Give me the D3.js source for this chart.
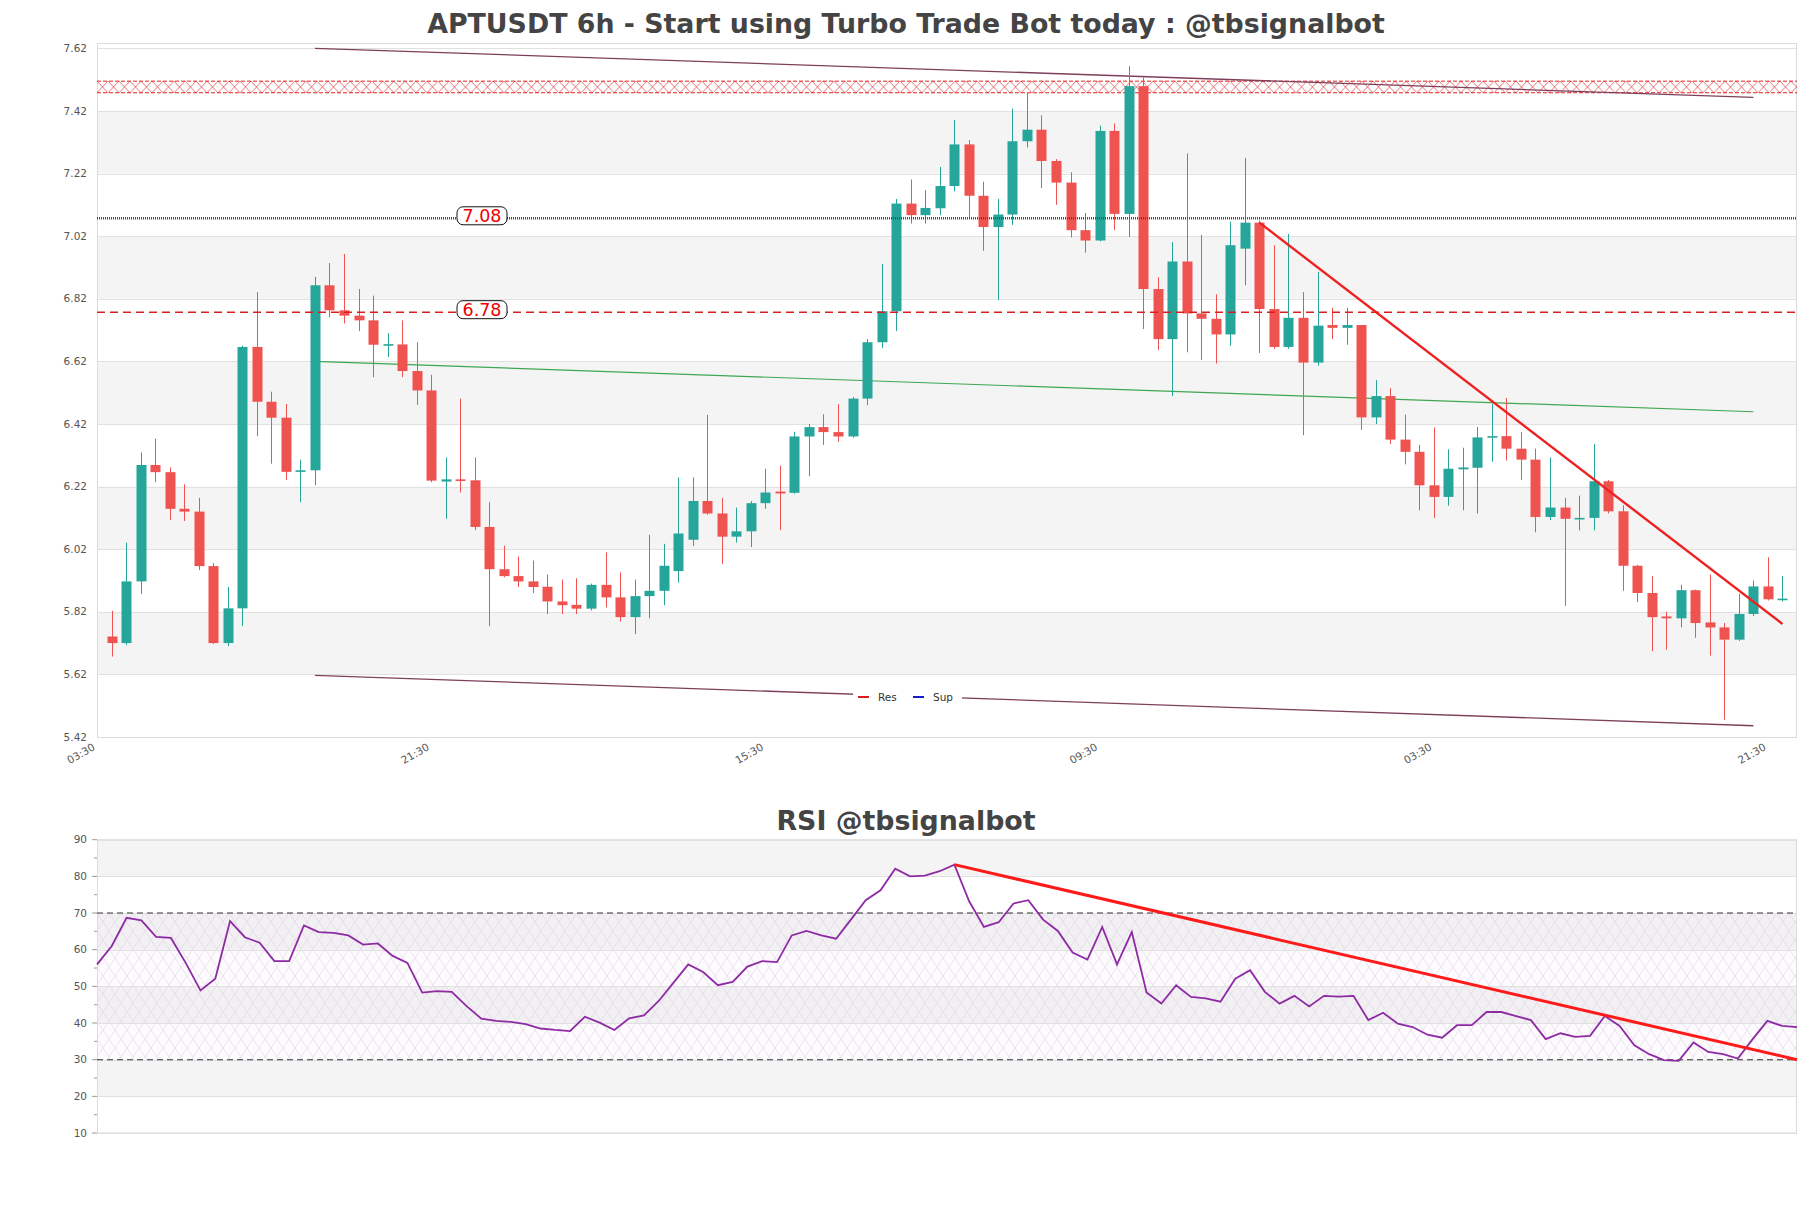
<!DOCTYPE html>
<html><head><meta charset="utf-8">
<script src="https://cdn.jsdelivr.net/npm/d3@7"></script>
<style>html,body{margin:0;padding:0;background:#fff}svg{display:block}</style>
</head><body>
<svg id="c" width="1811" height="1208"></svg>
<script>
// ---------- DATA ----------
const opens  = [5.741,5.720,5.917,6.289,6.266,6.149,6.140,5.966,5.720,5.831,6.666,6.491,6.440,6.267,6.272,6.863,6.783,6.766,6.751,6.672,6.674,6.589,6.527,6.236,6.243,6.240,6.091,5.956,5.934,5.917,5.900,5.853,5.842,5.830,5.906,5.866,5.803,5.870,5.887,5.950,6.050,6.174,6.134,6.060,6.077,6.167,6.204,6.200,6.380,6.410,6.394,6.380,6.501,6.681,6.780,7.124,7.087,7.109,7.180,7.313,7.149,7.049,7.089,7.323,7.360,7.260,7.191,7.039,7.006,7.356,7.091,7.499,6.851,6.691,6.939,6.773,6.756,6.706,6.980,7.063,6.787,6.666,6.759,6.616,6.736,6.727,6.736,6.441,6.509,6.370,6.331,6.224,6.187,6.275,6.280,6.377,6.381,6.341,6.306,6.123,6.153,6.117,6.120,6.237,6.141,5.967,5.880,5.805,5.799,5.889,5.786,5.770,5.731,5.813,5.901,5.859];
const highs  = [5.823,6.041,6.329,6.373,6.281,6.227,6.184,5.976,5.899,6.670,6.841,6.523,6.484,6.306,6.890,6.934,6.963,6.851,6.830,6.710,6.751,6.681,6.577,6.313,6.501,6.313,6.170,6.031,5.996,5.984,5.939,5.923,5.927,5.910,6.010,5.946,5.923,6.066,6.037,6.249,6.249,6.449,6.184,6.153,6.174,6.277,6.287,6.395,6.420,6.451,6.483,6.506,6.691,6.931,7.139,7.201,7.167,7.241,7.391,7.327,7.194,7.139,7.427,7.477,7.406,7.266,7.224,7.094,7.373,7.380,7.563,7.527,6.889,7.001,7.284,7.024,6.834,7.066,7.270,7.070,6.991,7.027,6.841,6.906,6.791,6.791,6.736,6.560,6.534,6.450,6.353,6.409,6.339,6.344,6.410,6.484,6.503,6.394,6.341,6.313,6.184,6.191,6.356,6.241,6.160,5.970,5.934,5.820,5.906,5.891,5.939,5.784,5.877,5.920,5.994,5.934];
const lows   = [5.677,5.713,5.877,6.234,6.113,6.110,5.953,5.717,5.710,5.774,6.381,6.293,6.241,6.170,6.224,6.761,6.741,6.717,6.569,6.634,6.570,6.481,6.234,6.117,6.201,6.081,5.774,5.930,5.899,5.880,5.813,5.813,5.813,5.824,5.834,5.789,5.749,5.799,5.841,5.913,6.030,6.130,5.973,6.041,6.027,6.149,6.081,6.197,6.253,6.353,6.363,6.376,6.480,6.663,6.717,7.060,7.060,7.087,7.163,7.077,6.973,6.816,7.056,7.303,7.174,7.120,7.016,6.967,7.003,7.039,7.017,6.723,6.656,6.509,6.649,6.624,6.613,6.670,6.863,6.647,6.660,6.660,6.384,6.606,6.691,6.673,6.401,6.420,6.356,6.291,6.144,6.120,6.159,6.144,6.134,6.299,6.303,6.241,6.074,6.113,5.839,6.080,6.080,6.134,5.887,5.851,5.694,5.699,5.770,5.737,5.680,5.475,5.727,5.806,5.856,5.853];
const closes = [5.720,5.917,6.289,6.266,6.149,6.140,5.966,5.720,5.831,6.666,6.491,6.440,6.267,6.272,6.863,6.783,6.766,6.751,6.673,6.675,6.589,6.527,6.239,6.243,6.240,6.091,5.956,5.934,5.917,5.899,5.853,5.841,5.830,5.906,5.866,5.803,5.870,5.887,5.967,6.070,6.174,6.134,6.060,6.077,6.167,6.201,6.198,6.380,6.410,6.394,6.380,6.501,6.681,6.780,7.124,7.087,7.110,7.180,7.313,7.149,7.049,7.089,7.323,7.360,7.260,7.191,7.039,7.006,7.356,7.091,7.499,6.851,6.691,6.939,6.773,6.756,6.706,6.991,7.063,6.787,6.666,6.759,6.616,6.734,6.727,6.736,6.441,6.509,6.370,6.331,6.224,6.187,6.277,6.281,6.377,6.381,6.341,6.306,6.123,6.153,6.117,6.120,6.237,6.141,5.967,5.880,5.803,5.799,5.889,5.784,5.770,5.731,5.813,5.901,5.860,5.862];

const rsi = [56.0,61.0,68.7,68.0,63.5,63.2,56.4,48.9,52.1,67.8,63.4,61.9,56.9,56.9,66.6,64.8,64.6,63.9,61.4,61.7,58.3,56.4,48.3,48.7,48.5,44.6,41.2,40.6,40.3,39.7,38.5,38.1,37.8,41.7,40.1,38.1,41.3,42.1,46.0,51.0,56.0,53.9,50.3,51.2,55.4,56.9,56.6,63.9,65.1,63.9,63.0,68.2,73.5,76.2,82.1,80.0,80.2,81.4,83.2,73.2,66.2,67.5,72.6,73.5,68.2,65.1,59.2,57.3,66.2,56.0,64.8,48.3,45.3,50.3,47.1,46.7,45.8,52.1,54.4,48.5,45.3,47.4,44.5,47.4,47.2,47.4,40.8,42.8,39.8,38.9,36.8,36.0,39.4,39.4,43.0,43.0,41.9,40.8,35.6,37.2,36.2,36.5,41.9,39.2,33.9,31.5,29.9,29.7,34.7,32.1,31.5,30.3,35.6,40.6,39.2,38.9];

const priceTicks = [5.42,5.62,5.82,6.02,6.22,6.42,6.62,6.82,7.02,7.22,7.42,7.62];
const rsiTicks = [10,20,30,40,50,60,70,80,90];
const timeTickIndex = [-1,22,45,68,91,114];
const timeTickLabels = ["03:30","21:30","15:30","09:30","03:30","21:30"];

// level lines / zones
const resZone = [7.478, 7.515];
const levelDotted = 7.077, levelDotLabel = "7.08";
const levelDashed = 6.777, levelDashLabel = "6.78";
const upperChannel = {i:[14,113], v:[7.620,7.463]};
const lowerChannel = {i:[14,113], v:[5.617,5.456]};
const midLine      = {i:[14,113], v:[6.620,6.459]};
const downTrend    = {i:[79,115], v:[7.063,5.781]};
const rsiTrend     = {i:[58,115], v:[83.2,30.0]};
const legendItems = [{name:"Res",color:"#e01b1b"},{name:"Sup",color:"#1a1ad0"}];

// ---------- DRAW ----------
const svg = d3.select("#c");
const defs = svg.append("defs");
const FONT = "DejaVu Sans, sans-serif";
const L=97, R=1797;

// main scales
const mx = d3.scaleLinear().domain([-1,116]).range([L,R]);
const my = d3.scaleLinear().domain([5.42,7.62]).range([737,48.3]);
const mainTop = 43, mainBot = 737;

// title
svg.append("text").attr("x",906).attr("y",33).attr("text-anchor","middle")
  .attr("font-family",FONT).attr("font-weight","bold").attr("font-size",26.8)
  .attr("fill","#444").text("APTUSDT 6h - Start using Turbo Trade Bot today : @tbsignalbot");

const gMain = svg.append("g");
// bands
gMain.append("rect").attr("x",L).attr("y",mainTop).attr("width",R-L).attr("height",mainBot-mainTop).attr("fill","#fff");
for(let k=0;k<priceTicks.length-1;k++){
  if(k%2===1){
    gMain.append("rect").attr("x",L).attr("width",R-L)
      .attr("y",my(priceTicks[k+1])).attr("height",my(priceTicks[k])-my(priceTicks[k+1]))
      .attr("fill","#f4f4f4");
  }
}
priceTicks.forEach(t=>{
  gMain.append("line").attr("x1",L).attr("x2",R).attr("y1",Math.round(my(t))+0.5).attr("y2",Math.round(my(t))+0.5)
    .attr("stroke","#e1e1e1").attr("stroke-width",1);
  gMain.append("text").attr("x",L-10).attr("y",my(t)).attr("dy","0.35em").attr("text-anchor","end")
    .attr("font-family",FONT).attr("font-size",10.5).attr("fill","#555").text(t.toFixed(2));
});
gMain.append("rect").attr("x",L+0.5).attr("y",mainTop+0.5).attr("width",R-L-1).attr("height",mainBot-mainTop)
  .attr("fill","none").attr("stroke","#dcdcdc");

// resistance hatch zone
const zTop = my(resZone[1]), zBot = my(resZone[0]);
const zh = zBot - zTop;
const pat = defs.append("pattern").attr("id","xhatch").attr("patternUnits","userSpaceOnUse")
  .attr("x",L).attr("y",zTop).attr("width",11).attr("height",zh);
pat.append("path").attr("d",`M0,0L11,${zh}M11,0L0,${zh}`).attr("stroke","#e23a3a").attr("stroke-width",0.7).attr("fill","none");
gMain.append("rect").attr("x",L).attr("y",zTop).attr("width",R-L).attr("height",zh).attr("fill","url(#xhatch)");
[zTop,zBot].forEach(yy=>gMain.append("line").attr("x1",L).attr("x2",R).attr("y1",yy).attr("y2",yy)
  .attr("stroke","#e02424").attr("stroke-width",1).attr("stroke-dasharray","4,2"));

// channel lines (under candles)
function seg(g,obj,xs,ys,color,w){
  g.append("line").attr("x1",xs(obj.i[0])).attr("y1",ys(obj.v[0])).attr("x2",xs(obj.i[1])).attr("y2",ys(obj.v[1]))
   .attr("stroke",color).attr("stroke-width",w);
}
seg(gMain,upperChannel,mx,my,"#7e3f5c",1.3);
seg(gMain,lowerChannel,mx,my,"#7e3f5c",1.3);
seg(gMain,midLine,mx,my,"#3fa653",1.2);

// candles
const up="#26a69a", dn="#ef5350";
const gC = gMain.append("g");
opens.forEach((o,i)=>{
  const c=closes[i], col = c>=o?up:dn, x=Math.round(mx(i))+0.5;
  gC.append("line").attr("x1",x).attr("x2",x).attr("y1",my(highs[i])).attr("y2",my(lows[i])).attr("stroke",col).attr("stroke-width",1);
  const y1=my(Math.max(o,c)), y2=my(Math.min(o,c));
  gC.append("rect").attr("x",x-5).attr("width",10).attr("y",y1).attr("height",Math.max(1.6,y2-y1)).attr("fill",col);
});

// level lines
gMain.append("line").attr("x1",L).attr("x2",R).attr("y1",my(levelDotted)).attr("y2",my(levelDotted))
  .attr("stroke","#dd1111").attr("stroke-width",2.6).attr("stroke-dasharray","1,1");
gMain.append("line").attr("x1",L).attr("x2",R).attr("y1",my(levelDashed)).attr("y2",my(levelDashed))
  .attr("stroke","#d81e1e").attr("stroke-width",1.4).attr("stroke-dasharray","8,5");
function lvlLabel(v,txt){
  const cx=482, cy=my(v)-2.5;
  gMain.append("rect").attr("x",cx-25).attr("y",cy-9).attr("width",50).attr("height",18).attr("rx",6)
    .attr("fill","#fff").attr("stroke","#111").attr("stroke-width",1);
  gMain.append("text").attr("x",cx).attr("y",cy).attr("dy","0.36em").attr("text-anchor","middle")
    .attr("font-family",FONT).attr("font-size",17.5).attr("fill","#e00").text(txt);
}
lvlLabel(levelDotted,levelDotLabel);
lvlLabel(levelDashed,levelDashLabel);

// down trend
seg(gMain,downTrend,mx,my,"#ee2222",2.4);

// legend
const lg = gMain.append("g");
lg.append("rect").attr("x",853).attr("y",688).attr("width",109).attr("height",17).attr("fill","#fff");
legendItems.forEach((d,k)=>{
  const x0 = 858 + k*55;
  lg.append("line").attr("x1",x0).attr("x2",x0+11).attr("y1",697).attr("y2",697).attr("stroke",d.color).attr("stroke-width",2);
  lg.append("text").attr("x",x0+20).attr("y",697).attr("dy","0.35em").attr("font-family",FONT).attr("font-size",10.5)
    .attr("fill","#333").text(d.name);
});

// x labels
timeTickIndex.forEach((ti,k)=>{
  gMain.append("text").attr("transform",`translate(${mx(ti)-3},${mainBot+9}) rotate(-30)`)
    .attr("text-anchor","end").attr("dy","0.35em").attr("font-family",FONT).attr("font-size",10.5)
    .attr("fill","#555").text(timeTickLabels[k]);
});

// ---------- RSI ----------
const rx = d3.scaleLinear().domain([0,rsi.length-1]).range([L,R]);
const ry = d3.scaleLinear().domain([10,90]).range([1133,839.7]);
svg.append("text").attr("x",906).attr("y",830).attr("text-anchor","middle")
  .attr("font-family",FONT).attr("font-weight","bold").attr("font-size",26.8)
  .attr("fill","#444").text("RSI @tbsignalbot");
const gR = svg.append("g");
gR.append("rect").attr("x",L).attr("y",ry(90)).attr("width",R-L).attr("height",ry(10)-ry(90)).attr("fill","#fff");
for(let k=0;k<rsiTicks.length-1;k++){
  if(k%2===1) gR.append("rect").attr("x",L).attr("width",R-L).attr("y",ry(rsiTicks[k+1]))
     .attr("height",ry(rsiTicks[k])-ry(rsiTicks[k+1])).attr("fill","#f4f4f4");
}
const hp = defs.append("pattern").attr("id","dhatch").attr("patternUnits","userSpaceOnUse")
  .attr("x",L).attr("y",ry(70)).attr("width",12).attr("height",18);
hp.append("path").attr("d","M0,0L12,18M12,0L0,18").attr("stroke","#d6cde0").attr("stroke-width",0.5).attr("fill","none");
gR.append("rect").attr("x",L).attr("y",ry(70)).attr("width",R-L).attr("height",ry(30)-ry(70)).attr("fill","rgba(200,160,220,0.04)");
gR.append("rect").attr("x",L).attr("y",ry(70)).attr("width",R-L).attr("height",ry(30)-ry(70)).attr("fill","url(#dhatch)");
rsiTicks.forEach(t=>{
  gR.append("line").attr("x1",L).attr("x2",R).attr("y1",Math.round(ry(t))+0.5).attr("y2",Math.round(ry(t))+0.5)
    .attr("stroke","#e1e1e1");
  gR.append("line").attr("x1",L-5).attr("x2",L).attr("y1",ry(t)).attr("y2",ry(t)).attr("stroke","#999");
  gR.append("text").attr("x",L-10).attr("y",ry(t)).attr("dy","0.35em").attr("text-anchor","end")
    .attr("font-family",FONT).attr("font-size",10.5).attr("fill","#555").text(t);
  if(t<90) gR.append("line").attr("x1",L-3).attr("x2",L).attr("y1",ry(t+5)).attr("y2",ry(t+5)).attr("stroke","#999");
});
gR.append("rect").attr("x",L+0.5).attr("y",ry(90)).attr("width",R-L-1).attr("height",ry(10)-ry(90))
  .attr("fill","none").attr("stroke","#dcdcdc");
[70,30].forEach(v=>gR.append("line").attr("x1",L).attr("x2",R).attr("y1",ry(v)).attr("y2",ry(v))
  .attr("stroke","#333").attr("stroke-width",1.1).attr("stroke-dasharray","6,4"));
gR.append("path").datum(rsi).attr("fill","none").attr("stroke","#8e2aa3").attr("stroke-width",1.8)
  .attr("d",d3.line().x((d,i)=>rx(i)).y(d=>ry(d)));
seg(gR,rsiTrend,rx,ry,"#ff1a1a",3);
</script>
</body></html>
